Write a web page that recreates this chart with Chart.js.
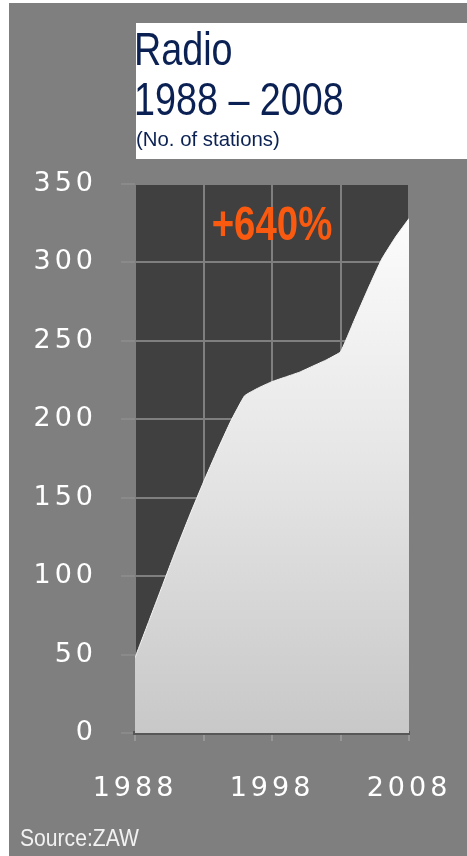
<!DOCTYPE html>
<html>
<head>
<meta charset="utf-8">
<script src="https://cdn.jsdelivr.net/npm/chart.js@4"></script>
<style>
  html, body { margin: 0; padding: 0; background: #ffffff; }
  body { width: 467px; height: 856px; position: relative; overflow: hidden; }
  #bg { position: absolute; left: 9px; top: 3px; right: 0; bottom: 0; background: #7f7f7f; }
  #titleBox { position: absolute; left: 136px; top: 23px; width: 331px; height: 136px; background: #ffffff; }
  .t { position: absolute; white-space: nowrap; color: #0b2153; font-family: "Liberation Sans", Arial, sans-serif; transform-origin: 0 0; }
  #t1 { left: 134px; top: 26px; font-size: 46px; line-height: 46px; transform: scaleX(0.82); }
  #t2 { left: 134px; top: 76px; font-size: 46px; line-height: 46px; transform: scaleX(0.82); }
  #t3 { left: 136px; top: 128px; font-size: 21px; line-height: 21px; transform: scaleX(0.97); }
  #source { position: absolute; left: 20px; top: 826px; font-family: "Liberation Sans", Arial, sans-serif;
            font-size: 24px; line-height: 24px; color: #f2f2f2; transform: scaleX(0.88); transform-origin: 0 0; white-space: nowrap; }
  #wrap { position: absolute; left: 0; top: 0; width: 467px; height: 856px; }
</style>
</head>
<body>
<div id="bg"></div>
<div id="wrap"><canvas id="myChart"></canvas></div>
<div id="titleBox"></div>
<div class="t" id="t1">Radio</div>
<div class="t" id="t2">1988 – 2008</div>
<div class="t" id="t3">(No. of stations)</div>
<div id="source">Source:ZAW</div>
<script>
const YEARS = [1988, 1989, 1990, 1991, 1992, 1993, 1994, 1995, 1996, 1997, 1998,
               1999, 2000, 2001, 2002, 2003, 2004, 2005, 2006, 2007, 2008];
const STATIONS = [48, 71, 94, 117, 139, 160, 180, 199, 215, 220, 224,
                  227, 230, 234, 238, 243, 263, 283, 302, 316, 328];
const X_LABELS = [1988, 1998, 2008];
const CHANGE_LABEL = "+640%";

const points = YEARS.map((y, i) => ({ x: y, y: STATIONS[i] }));

// plot background + wide digits for the axis labels
const plotBg = {
  id: "plotBg",
  beforeLayout(chart) { chart.ctx.letterSpacing = "4px"; },
  beforeDraw(chart) {
    const { ctx, chartArea: a } = chart;
    ctx.letterSpacing = "4px";
    ctx.save();
    ctx.fillStyle = "#404040";
    ctx.fillRect(a.left, a.top, a.right - a.left, a.bottom - a.top);
    ctx.restore();
  },
  afterDraw(chart) {
    const { ctx, scales } = chart;
    ctx.save();
    ctx.letterSpacing = "0px";
    ctx.translate(scales.x.getPixelForValue(1998), scales.y.getPixelForValue(314));
    ctx.scale(0.8, 1);
    ctx.font = 'bold 48px "Liberation Sans", Arial, sans-serif';
    ctx.fillStyle = "#fa5a0f";
    ctx.textAlign = "center";
    ctx.textBaseline = "alphabetic";
    ctx.fillText(CHANGE_LABEL, 0, 0);
    ctx.restore();
  }
};

const config = {
  type: "line",
  data: {
    datasets: [{
      data: points,
      fill: "origin",
      tension: 0.1,
      pointRadius: 0,
      borderWidth: 1,
      borderColor: "#f6f6f6",
      backgroundColor: function(context) {
        const a = context.chart.chartArea;
        if (!a) return "#e0e0e0";
        const g = context.chart.ctx.createLinearGradient(0, a.top, 0, a.bottom);
        g.addColorStop(0, "#ffffff");
        g.addColorStop(0.5, "#e6e6e6");
        g.addColorStop(1, "#c8c8c8");
        return g;
      }
    }]
  },
  options: {
    responsive: true,
    maintainAspectRatio: false,
    animation: false,
    layout: { padding: { top: 184, right: 58, bottom: 0, left: 0 } },
    plugins: { legend: { display: false }, tooltip: { enabled: false } },
    scales: {
      x: {
        type: "linear",
        min: 1988,
        max: 2008,
        afterFit(s) { s.height = 123; s.paddingLeft = 0; s.paddingRight = 0; },
        grid: { color: "#7f7f7f", lineWidth: 2, tickLength: 8, tickColor: "#969696" },
        border: { color: "#575757", width: 4 },
        ticks: {
          stepSize: 5,
          autoSkip: false,
          maxRotation: 0,
          padding: 32,
          color: "#ffffff",
          font: { family: '"DejaVu Sans", Verdana, sans-serif', size: 27 },
          callback: (v) => X_LABELS.includes(v) ? String(v) : ""
        }
      },
      y: {
        min: 0,
        max: 350,
        afterFit(s) { s.width = 135; },
        grid: { color: "#7f7f7f", lineWidth: 2, tickLength: 14, tickColor: "#8a8a8a" },
        border: { display: false },
        ticks: {
          stepSize: 50,
          padding: 24,
          color: "#ffffff",
          font: { family: '"DejaVu Sans", Verdana, sans-serif', size: 27 }
        }
      }
    }
  },
  plugins: [plotBg]
};

const myChart = new Chart(document.getElementById("myChart"), config);
</script>
</body>
</html>
